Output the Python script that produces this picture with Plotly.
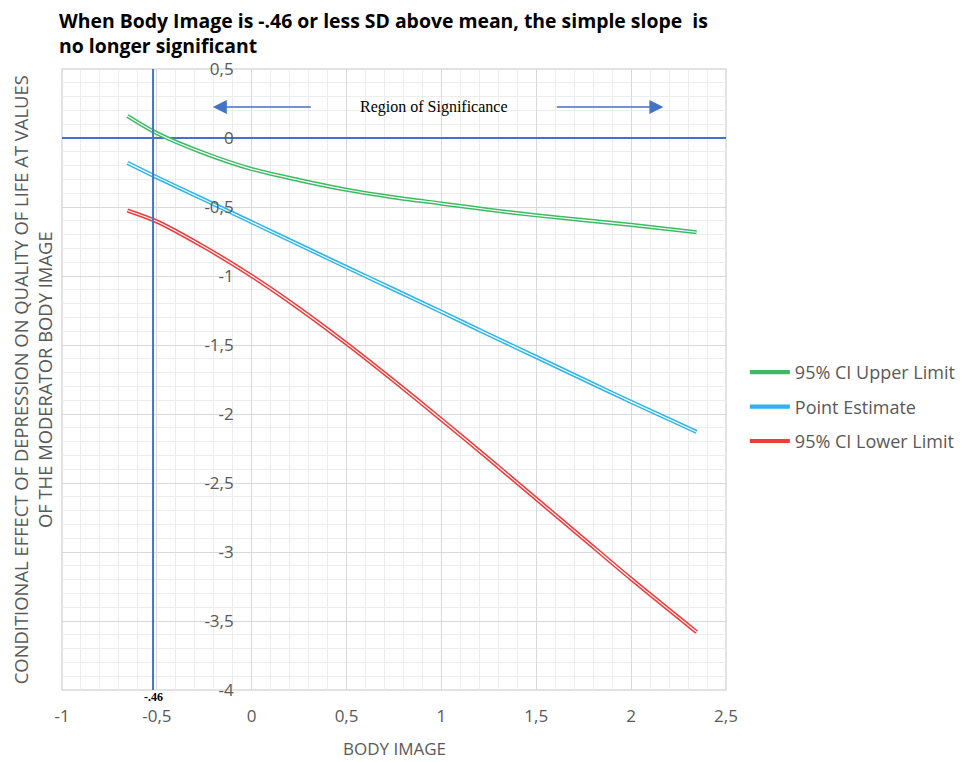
import plotly.graph_objects as go

# ---- data ----
body_image = [-0.655, -0.5, -0.25, 0.0, 0.25, 0.5, 0.75, 1.0, 1.25, 1.5, 1.75, 2.0, 2.345]
ci_upper = [0.16, 0.035, -0.11, -0.225, -0.305, -0.375, -0.43, -0.475, -0.52, -0.56, -0.595, -0.63, -0.683]
point_est = [-0.18, -0.285, -0.447, -0.61, -0.773, -0.936, -1.098, -1.26, -1.425, -1.587, -1.75, -1.912, -2.13]
ci_lower = [-0.525, -0.605, -0.79, -1.0, -1.235, -1.49, -1.76, -2.04, -2.325, -2.615, -2.905, -3.195, -3.58]

series_names = ["95% CI Upper Limit", "Point Estimate", "95% CI Lower Limit"]
series_colors = ["#3DBB63", "#2DB4EC", "#F23A3A"]
jn_point = -0.52          # position of the significance boundary line
jn_label = "-.46"
region_label = "Region of Significance"
arrow_y = 0.225
left_arrow = (0.32, -0.205)    # tail, head (x)
right_arrow = (1.60, 2.17)     # tail, head (x)

x_tickvals = [-1, -0.5, 0, 0.5, 1, 1.5, 2, 2.5]
x_ticktext = ["-1", "-0,5", "0", "0,5", "1", "1,5", "2", "2,5"]
y_tickvals = [0.5, 0, -0.5, -1, -1.5, -2, -2.5, -3, -3.5, -4]
y_ticktext = ["0,5", "0", "-0,5", "-1", "-1,5", "-2", "-2,5", "-3", "-3,5", "-4"]

title_lines = ["When Body Image is -.46 or less SD above mean, the simple slope  is",
               "no longer significant"]
x_title = "BODY IMAGE"
y_title = ("CONDITIONAL EFFECT OF DEPRESSION ON QUALITY OF LIFE AT VALUES"
           "<br>OF THE MODERATOR BODY IMAGE")

x_range = [-1, 2.5]
y_range = [-4, 0.5]

AXIS_BLUE = "#4472C4"
TXT = "#595959"
FONT = "Open Sans"

# plot-area size in pixels (used to place paper-referenced texts)
PW, PH = 669, 621

fig = go.Figure()

for name, ys, col in zip(series_names, [ci_upper, point_est, ci_lower], series_colors):
    fig.add_trace(go.Scatter(x=body_image, y=ys, mode="lines", name=name,
                             line=dict(color=col, width=4.2, shape="spline", smoothing=0.8),
                             legendgroup=name, hoverinfo="skip"))
    fig.add_trace(go.Scatter(x=body_image, y=ys, mode="lines", name=name,
                             line=dict(color="white", width=1.2, shape="spline", smoothing=0.8),
                             legendgroup=name, showlegend=False, hoverinfo="skip"))

# vertical boundary line
fig.add_shape(type="line", xref="x", yref="paper", x0=jn_point, x1=jn_point, y0=0, y1=1,
              line=dict(color=AXIS_BLUE, width=2))
# plot border
fig.add_shape(type="rect", xref="paper", yref="paper", x0=0, x1=1, y0=0, y1=1,
              line=dict(color="#D9D9D9", width=1.5), layer="below")

fig.add_annotation(x=jn_point, y=0, xref="x", yref="paper", yanchor="middle", yshift=-7,
                   text="<b>" + jn_label + "</b>", showarrow=False,
                   font=dict(family="Liberation Sans Narrow", size=12, color="black"))

fig.add_annotation(x=(left_arrow[0] + right_arrow[0]) / 2, y=arrow_y, xref="x", yref="y",
                   text=region_label, showarrow=False,
                   font=dict(family="Liberation Serif", size=16, color="black"))
for tail, head in [left_arrow, right_arrow]:
    fig.add_annotation(x=head, y=arrow_y, ax=tail, ay=arrow_y, xref="x", yref="y",
                       axref="x", ayref="y", text="", showarrow=True,
                       arrowhead=2, arrowsize=2.0, arrowwidth=1.4, arrowcolor=AXIS_BLUE)

# title (two lines, placed separately for exact line spacing)
for i, line in enumerate(title_lines):
    fig.add_annotation(x=-5 / PW, y=1 + (49 - 25 * i) / PH, xref="paper", yref="paper",
                       xanchor="left", yanchor="middle", align="left",
                       text="<b>" + line + "</b>", showarrow=False,
                       font=dict(family="Open Sans", size=19.4, color="black"))
# axis titles
fig.add_annotation(x=0.5, y=-58 / PH, xref="paper", yref="paper", yanchor="middle",
                   text=x_title, showarrow=False, font=dict(family=FONT, size=17, color=TXT))
fig.add_annotation(x=-29.5 / PW, y=0.5, xref="paper", yref="paper",
                   xanchor="center", yanchor="middle",
                   text=y_title, showarrow=False, textangle=-90,
                   font=dict(family=FONT, size=18.4, color=TXT))

fig.update_layout(
    width=965, height=754,
    margin=dict(l=54, r=242, t=61, b=72),
    paper_bgcolor="white", plot_bgcolor="white",
    showlegend=True,
    legend=dict(x=(750 - 62) / PW, y=(690 - 407) / PH, xanchor="left", yanchor="middle",
                font=dict(family=FONT, size=18, color=TXT),
                tracegroupgap=8, itemwidth=40, bgcolor="rgba(0,0,0,0)"),
    xaxis=dict(range=x_range, tickvals=x_tickvals, ticktext=x_ticktext,
               showgrid=True, gridcolor="#D9D9D9",
               gridwidth=1.3, zeroline=False, showline=False, ticks="",
               ticklabelstandoff=14,
               tickfont=dict(family=FONT, size=17, color=TXT),
               minor=dict(dtick=0.1, showgrid=True, gridcolor="#EDEDED", gridwidth=1),
               fixedrange=True),
    yaxis=dict(range=y_range, tickvals=y_tickvals, ticktext=y_ticktext,
               showgrid=True, gridcolor="#D9D9D9",
               gridwidth=1.3, zeroline=True, zerolinecolor=AXIS_BLUE, zerolinewidth=2,
               showline=False, ticks="", anchor="free",
               position=(0 - x_range[0]) / (x_range[1] - x_range[0]),
               ticklabelstandoff=18,
               tickfont=dict(family=FONT, size=17, color=TXT),
               minor=dict(dtick=0.1, showgrid=True, gridcolor="#EDEDED", gridwidth=1),
               fixedrange=True),
)

fig.write_html("out.html")
